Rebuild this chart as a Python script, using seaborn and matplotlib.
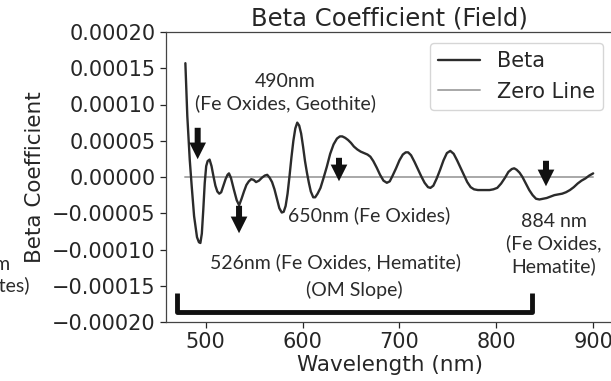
import numpy as np
import pandas as pd
import matplotlib
matplotlib.use("Agg")
import matplotlib.pyplot as plt
import seaborn as sns

# Beta coefficient spectrum (field samples), values in units of 1e-5
wavelength_nm = [
    479, 481, 483.5, 485.5, 488, 491, 493, 494.5, 496, 497.5, 499, 500.5, 502, 504,
    506, 508, 510, 512, 514, 516, 518, 520.5, 522.5, 524, 526, 529, 532, 534.5,
    537, 539.5, 542, 544.5, 547, 549.5, 552, 555, 558, 561, 563.5, 566, 568.5, 571,
    573.5, 576, 578.5, 580.5, 582.5, 584.5, 586.5, 588.5, 590.5, 592.5, 594.5, 596.5,
    598.5, 600.5, 602.5, 604.5, 606.5, 608.5, 611, 613, 615.5, 618.5, 621.5, 625,
    628.5, 632, 635.5, 638.5, 641, 644, 647, 650, 653, 656.5, 660, 663.5, 667, 670,
    673, 676.5, 680, 683.5, 687, 690, 693, 696.5, 700, 703.5, 706.5, 709, 712, 715.5,
    719, 722.5, 726, 729.5, 732, 735, 738.5, 742, 745.5, 749, 752.5, 756, 759.5, 763,
    766.5, 770, 773.5, 777, 781, 785, 789, 793, 797, 801, 805, 809, 812.5, 816, 818.5,
    821, 824, 827, 830.5, 834, 837.5, 841, 844.5, 848, 852, 856, 860, 864, 868, 872,
    876, 880, 884, 888, 892, 896, 900,
]
beta_e5 = [
    15.7, 8.4, 2.4, -1.2, -5.4, -8.3, -9.0, -9.1, -7.8, -4.5, -0.8, 1.5, 2.2, 2.4,
    1.5, 0.1, -1.2, -2.0, -2.3, -2.1, -1.3, -0.3, 0.3, 0.5, -0.1, -1.7, -3.2, -3.9,
    -3.0, -2.0, -1.1, -0.6, -0.3, -0.4, -0.7, -0.5, -0.1, 0.2, 0.3, -0.1, -0.7, -1.7,
    -3.0, -4.3, -4.9, -4.8, -4.0, -2.3, 0.1, 2.7, 5.0, 6.7, 7.5, 7.1,
    6.0, 4.2, 2.2, 0.6, -0.8, -2.0, -2.8, -2.8, -2.3, -1.5, -0.2, 1.4,
    3.2, 4.5, 5.3, 5.6, 5.6, 5.4, 5.1, 4.7, 4.2, 3.8, 3.5, 3.3, 3.1, 2.8,
    2.2, 1.3, 0.3, -0.5, -0.8, -0.6, 0.2, 1.2, 2.3, 3.1, 3.4, 3.4, 3.0, 2.1,
    1.1, 0.1, -0.8, -1.4, -1.5, -1.2, -0.2, 1.0, 2.3, 3.3, 3.6, 3.2, 2.3, 1.3,
    0.3, -0.7, -1.4, -1.7, -1.8, -1.8, -1.8, -1.8, -1.7, -1.5, -0.9, -0.1, 0.7, 1.1, 1.2,
    1.0, 0.6, 0.0, -0.9, -1.8, -2.5, -3.0, -3.1, -3.0, -2.9, -2.7, -2.5, -2.4, -2.3, -2.1,
    -1.8, -1.4, -0.9, -0.5, -0.2, 0.2, 0.5,
]

x_ticks = [500, 600, 700, 800, 900]
y_ticks = [-0.0002, -0.00015, -0.0001, -0.00005, 0.0, 0.00005, 0.0001, 0.00015, 0.0002]
y_tick_labels = [f"{v:.5f}".replace("-", "\u2212") for v in y_ticks]

# absorption features: (label, x, y, horizontal alignment)
feature_labels = [
    ("490nm\n(Fe Oxides, Geothite)", 582.0, 0.0001166, "center"),
    ("650nm (Fe Oxides)", 585.0, -0.0000524, "left"),
    ("526nm (Fe Oxides, Hematite)", 633.5, -0.0001172, "center"),
    ("(OM Slope)", 653.0, -0.0001559, "center"),
    ("884 nm\n(Fe Oxides,\nHematite)", 859.5, -0.0000924, "center"),
]
# arrows: (x, tail y, tip y)
feature_arrows = [
    (491.7, 0.0000717, 0.0000207),
    (534.4, -0.0000359, -0.0000814),
    (637.6, 0.0000303, -0.0000097),
    (851.3, 0.0000262, -0.0000166),
]
# bracket marking the OM slope range
bracket_x = (470.4, 836.9)
bracket_y = (-0.00016, -0.0001862)

df = pd.DataFrame({
    "Wavelength (nm)": wavelength_nm,
    "Beta": np.array(beta_e5) * 1e-5,
    "Zero": np.zeros(len(wavelength_nm)),
})

sns.set_theme(style="ticks")
plt.rcParams["font.family"] = ["DejaVu Sans"]
plt.rcParams.update({
    "text.color": "#262626",
    "axes.labelcolor": "#262626",
    "xtick.color": "#262626",
    "ytick.color": "#262626",
    "axes.edgecolor": "#444444",
    "axes.linewidth": 0.9,
})

fig = plt.figure(figsize=(6.11, 3.81), dpi=100)
ax = fig.add_axes([166 / 611, 59 / 381, (613.5 - 166) / 611, 290 / 381])

sns.lineplot(data=df, x="Wavelength (nm)", y="Beta", ax=ax, color="#2b2b2b",
             lw=1.7, label="Beta")
sns.lineplot(data=df, x="Wavelength (nm)", y="Zero", ax=ax, color="#a8a8a8",
             lw=1.4, label="Zero Line", zorder=1)

ax.set_xlim(459, 921)
ax.set_ylim(-0.0002, 0.0002)
ax.set_xticks(x_ticks)
ax.set_yticks(y_ticks)
ax.set_yticklabels(y_tick_labels)
ax.tick_params(labelsize=15, length=4, width=0.9)
ax.set_xlabel("Wavelength (nm)", fontsize=15.5, labelpad=2)
ax.set_ylabel("Beta Coefficient", fontsize=15.5, labelpad=5)
ax.set_title("Beta Coefficient (Field)", fontsize=17.5, pad=5)

leg = ax.legend(loc="upper right", fontsize=15, frameon=True, fancybox=True,
                bbox_to_anchor=(603 / 611, 1 - 43 / 381),
                bbox_transform=fig.transFigure, borderaxespad=0)
leg.get_frame().set_edgecolor("#cccccc")

ann_font = ["Lato", "DejaVu Sans"]
for text, x, y, ha in feature_labels:
    ax.text(x, y, text, ha=ha, va="center", fontsize=14, family=ann_font,
            linespacing=1.3, color="#2b2b2b")

for x, y0, y1 in feature_arrows:
    ax.annotate("", xy=(x, y1), xytext=(x, y0),
                arrowprops=dict(arrowstyle="simple,head_length=0.75,head_width=0.75,tail_width=0.27",
                                mutation_scale=16, color="#111111", lw=0))

bx0, bx1 = bracket_x
by0, by1 = bracket_y
ax.plot([bx0, bx0, bx1, bx1], [by0, by1, by1, by0], color="#111111", lw=3.5,
        solid_joinstyle="round", solid_capstyle="butt")

# partially visible neighbouring labels at the left edge
fig.text(10 / 611, 1 - 265 / 381, "2200nm", ha="right", va="center",
         fontsize=14, family=ann_font, color="#2b2b2b")
fig.text(30 / 611, 1 - 285 / 381, "(Carbonates)", ha="right", va="center",
         fontsize=14, family=ann_font, color="#2b2b2b")

fig.savefig("out.png", dpi=100)
